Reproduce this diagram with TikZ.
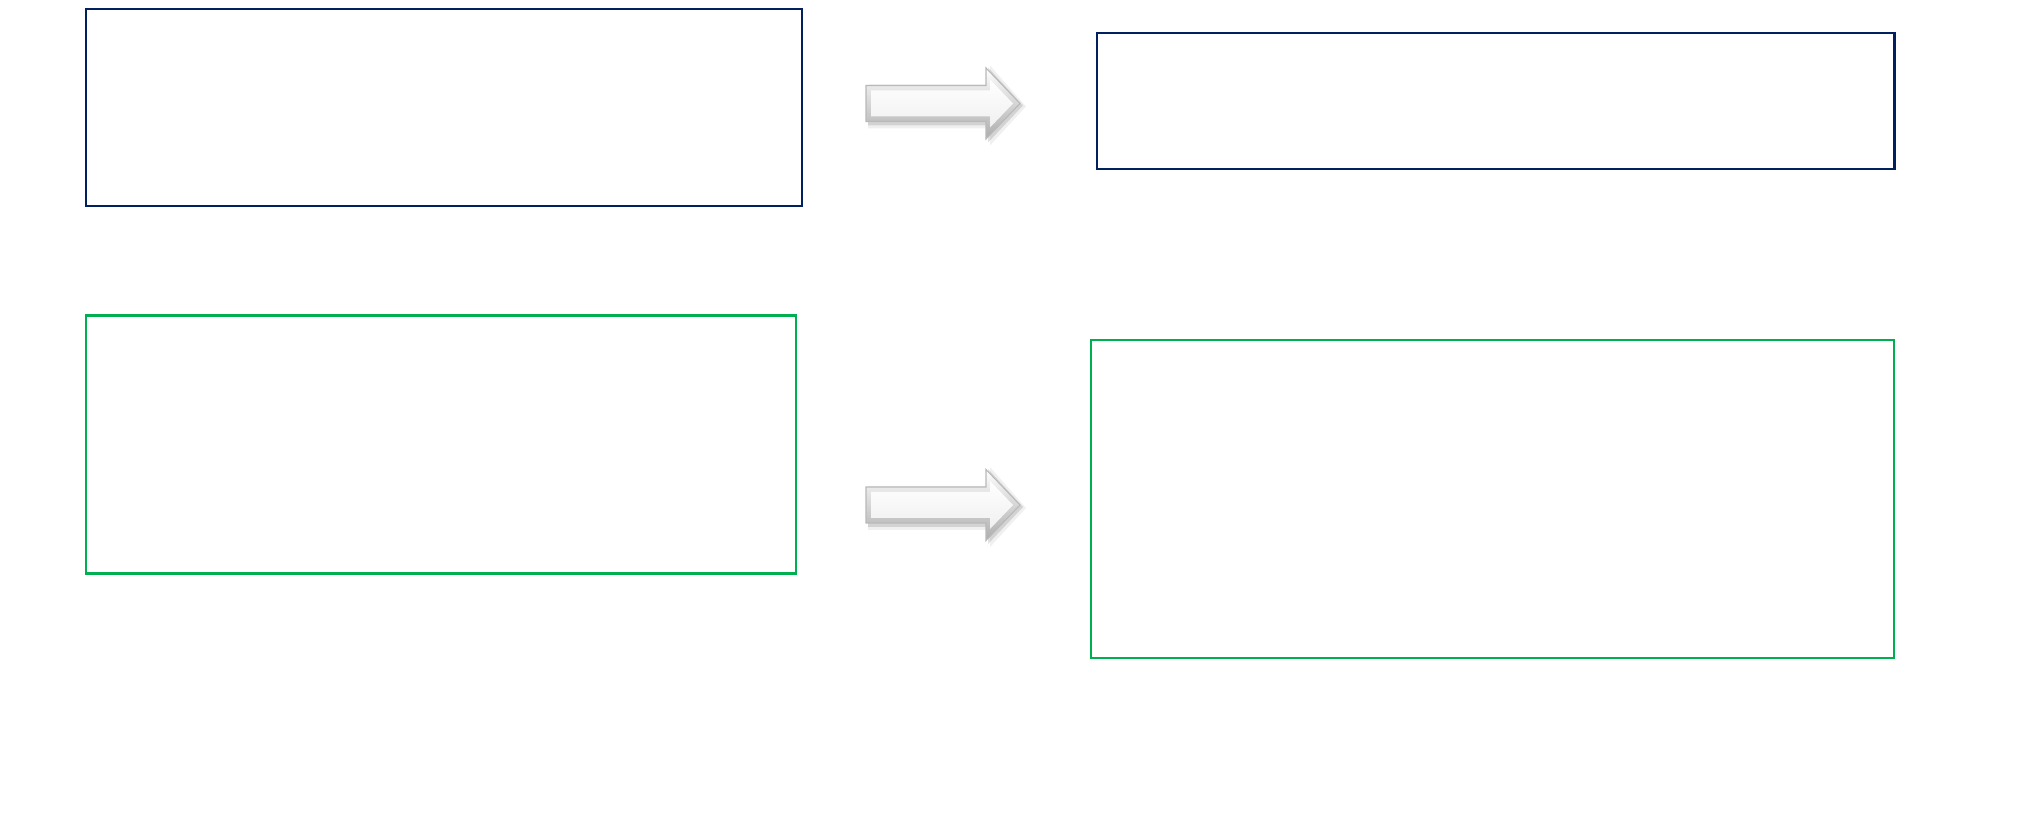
\documentclass[tikz,border=0pt]{standalone}
\usetikzlibrary{shadings}
\definecolor{navybox}{RGB}{0,32,96}
\definecolor{greenbox}{RGB}{0,176,80}
\tikzset{
  navyframe/.style={draw=navybox, line width=0.72pt, fill=white, inner sep=0pt},
  greenframe/.style={draw=greenbox, line width=0.62pt, fill=white, inner sep=0pt},
  bevelarrow/.pic={
    % soft shadow
    \fill[black, opacity=0.06] (2,-19) -- (124,-19) -- (124,-38) -- (160,3) -- (124,42) -- (124,25) -- (2,25) -- cycle;
    \fill[black, opacity=0.12] (2,-18) -- (122,-18) -- (122,-36) -- (157,2) -- (122,39) -- (122,22) -- (2,22) -- cycle;
    % outer body (bevel)
    \shade[top color=white, bottom color=gray!65, draw=gray!55, line width=0.3pt]
      (0,-18) -- (120,-18) -- (120,-35.5) -- (154,0) -- (120,35.5) -- (120,18) -- (0,18) -- cycle;
    % inner face
    \shade[top color=white, bottom color=gray!12]
      (5,-13) -- (124,-13) -- (124,-24) -- (147,0) -- (124,24) -- (124,13) -- (5,13) -- cycle;
  }
}
\begin{document}
\begin{tikzpicture}[x=0.01cm, y=-0.01cm]
  \useasboundingbox (0,0) rectangle (2019,831);
  \node[navyframe, minimum width=7.16cm, minimum height=1.97cm] (srctop) at (444,107.5) {};
  \node[navyframe, minimum width=7.97cm, minimum height=1.36cm] (dsttop) at (1495.5,101) {};
  \node[greenframe, minimum width=7.10cm, minimum height=2.58cm] (srcbot) at (441,444.5) {};
  \node[greenframe, minimum width=8.03cm, minimum height=3.18cm] (dstbot) at (1492.5,499) {};
  \pic (arrowtop) at (866,103.5) {bevelarrow};
  \pic (arrowbot) at (866,505) {bevelarrow};
\end{tikzpicture}
\end{document}
